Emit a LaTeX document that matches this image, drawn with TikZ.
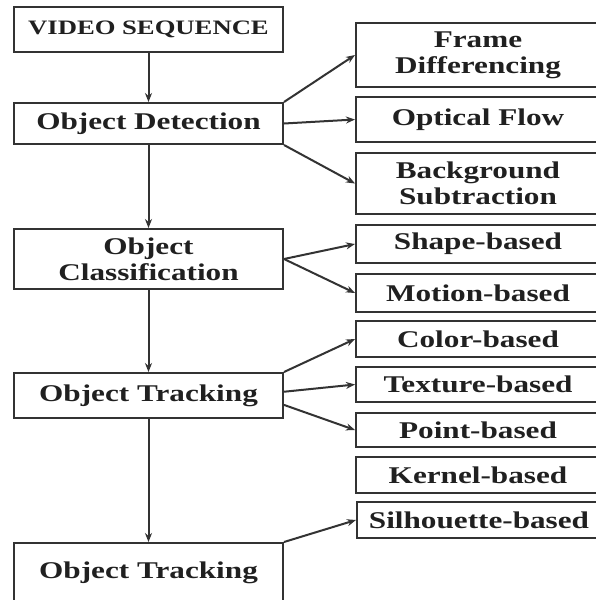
\documentclass[tikz,border=0pt]{standalone}
\usepackage{fontspec}
\setmainfont[FakeStretch=1.3]{Liberation Serif}
\usetikzlibrary{arrows.meta,calc}
\definecolor{ln}{HTML}{333333}
\definecolor{tx}{HTML}{202020}
\begin{document}
\begin{tikzpicture}[x=1pt,y=-1pt,
  box/.style={draw=ln,line width=2pt,rectangle,inner sep=0pt,align=center,
    text=tx,font=\fontsize{24}{26}\selectfont\bfseries},
  lbox/.style={box,minimum width=269pt},
  rbox/.style={box,minimum width=244pt},
  arr/.style={draw=ln,line width=2pt,-{Stealth[length=9pt,width=7pt]}}]
\useasboundingbox (0,0) rectangle (596,600);
\clip (0,0) rectangle (596,600);
\fill[white] (0,0) rectangle (596,600);
% left column
\node[lbox,minimum height=45pt] (vs)  at (148.5,29.5)  {\fontsize{20.5}{26}\selectfont VIDEO SEQUENCE};
\node[lbox,minimum height=41pt] (od)  at (148.5,123.5) {Object Detection};
\node[lbox,minimum height=60pt] (oc)  at (148.5,259)   {Object\\Classification};
\node[lbox,minimum height=45pt] (ot)  at (148.5,395.5) {Object Tracking};
\node[lbox,minimum height=60pt] (ot2) at (148.5,573)   {Object Tracking};
% right column
\node[rbox,minimum height=64pt] (fd)  at (478,55)    {Frame\\Differencing};
\node[rbox,minimum height=45pt] (of)  at (478,119.5) {Optical Flow};
\node[rbox,minimum height=61pt] (bs)  at (478,183.5) {Background\\Subtraction};
\node[rbox,minimum height=38pt] (sb)  at (478,244)   {Shape-based};
\node[rbox,minimum height=38pt] (mb)  at (478,293)   {Motion-based};
\node[rbox,minimum height=36pt] (cb)  at (478,339)   {Color-based};
\node[rbox,minimum height=35pt] (tb)  at (478,384.5) {Texture-based};
\node[rbox,minimum height=34pt] (pb)  at (478,430)   {Point-based};
\node[rbox,minimum height=36pt] (kb)  at (478,475)   {Kernel-based};
\node[rbox,minimum height=36pt] (sil) at (479,520)   {Silhouette-based};
% vertical flow
\draw[arr] (vs.south) -- (od.north);
\draw[arr] (od.south) -- (oc.north);
\draw[arr] (oc.south) -- (ot.north);
\draw[arr] (ot.south) -- (ot2.north);
% branches
\draw[arr] (od.north east) -- (fd.west);
\draw[arr] (od.east) -- (of.west);
\draw[arr] (od.south east) -- (bs.west);
\draw[arr] (oc.east) -- (sb.west);
\draw[arr] (oc.east) -- (mb.west);
\draw[arr] (ot.north east) -- (cb.west);
\draw[arr] ($(ot.north east)!0.42!(ot.south east)$) -- (tb.west);
\draw[arr] ($(ot.north east)!0.7!(ot.south east)$) -- (pb.west);
\draw[arr] (ot2.north east) -- (sil.west);
\end{tikzpicture}
\end{document}
